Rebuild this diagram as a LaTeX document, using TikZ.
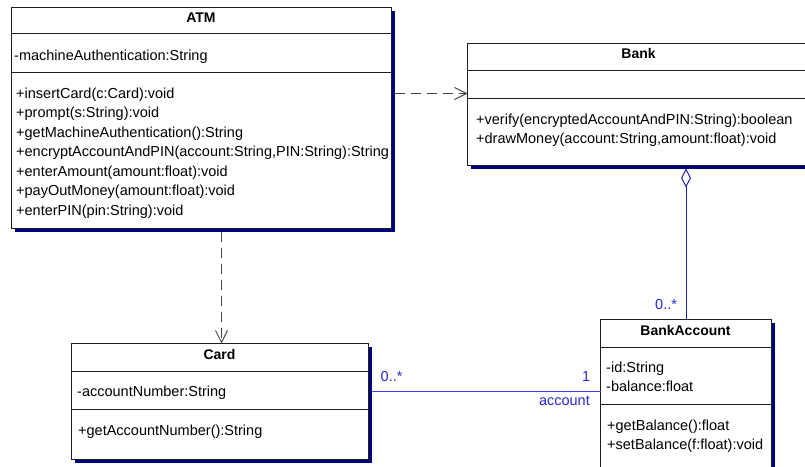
\documentclass[tikz,border=0pt]{standalone}
\usepackage{fontspec}
\setmainfont{Liberation Sans}
\usetikzlibrary{arrows.meta,shadows}
\definecolor{shadowc}{RGB}{0,0,128}
\definecolor{boxline}{RGB}{30,30,30}
\definecolor{depc}{RGB}{70,70,70}
\definecolor{assocc}{RGB}{60,60,255}
\definecolor{labelc}{RGB}{40,40,210}
\definecolor{aggc}{RGB}{35,35,175}
\tikzset{
  umlbox/.style={draw=boxline, fill=white, line width=1pt, inner sep=0pt, outer sep=0pt, anchor=north west,
    general shadow={fill=shadowc, shadow xshift=3pt, shadow yshift=-3pt}},
  sep/.style={draw=boxline, line width=1pt},
  txt/.style={anchor=base west, inner sep=0pt, font=\fontsize{14.5}{17}\selectfont},
  ttl/.style={anchor=base, inner sep=0pt, font=\fontsize{14}{17}\selectfont\bfseries},
  dep/.style={draw=depc, line width=1pt, dash pattern=on 10pt off 6pt, -{Straight Barb[length=12pt,width=12pt]}},
  assocline/.style={draw=assocc, line width=1.2pt},
  agg/.style={draw=aggc, line width=1pt, -{Diamond[open,fill=white,length=19pt,width=10pt]}},
  mult/.style={anchor=base west, inner sep=0pt, text=labelc, font=\fontsize{14.5}{17}\selectfont}
}
\begin{document}
\begin{tikzpicture}[x=1pt,y=-1pt]
\useasboundingbox[fill=white] (0,0) rectangle (805,466);

% ATM
\node[umlbox, minimum width=380pt, minimum height=221pt] (atm) at (11.5,7.5) {};
\draw[sep] (11.5,33.5) -- (391.5,33.5);
\draw[sep] (11.5,72.5) -- (391.5,72.5);
\node[ttl] (atmt) at (201,22) {ATM};
\node[txt] (atma) at (14,60) {-machineAuthentication:String};
\foreach \t [count=\i from 0] in {{+insertCard(c:Card):void},{+prompt(s:String):void},{+getMachineAuthentication():String},{+encryptAccountAndPIN(account:String,PIN:String):String},{+enterAmount(amount:float):void},{+payOutMoney(amount:float):void},{+enterPIN(pin:String):void}}
  \node[txt] (atmm\i) at (16,98+19.5*\i) {\t};

% Bank
\node[umlbox, minimum width=343pt, minimum height=122pt] (bank) at (467.5,43.5) {};
\draw[sep] (467.5,70.5) -- (810.5,70.5);
\draw[sep] (467.5,98.5) -- (810.5,98.5);
\node[ttl] (bankt) at (638.5,58) {Bank};
\node[txt] (bankm0) at (476,124) {+verify(encryptedAccountAndPIN:String):boolean};
\node[txt] (bankm1) at (476,143.5) {+drawMoney(account:String,amount:float):void};

% Card
\node[umlbox, minimum width=297pt, minimum height=116pt] (card) at (71.5,343.5) {};
\draw[sep] (71.5,371.5) -- (368.5,371.5);
\draw[sep] (71.5,409.5) -- (368.5,409.5);
\node[ttl] (cardt) at (219.5,359.3) {Card};
\node[txt] (carda) at (77,396.7) {-accountNumber:String};
\node[txt] (cardm) at (78,435) {+getAccountNumber():String};

% BankAccount
\node[umlbox, minimum width=171pt, minimum height=160pt] (bacc) at (600.5,319.5) {};
\draw[sep] (600.5,347.5) -- (771.5,347.5);
\draw[sep] (600.5,404.5) -- (771.5,404.5);
\node[ttl] (bacct) at (685.5,335) {BankAccount};
\node[txt] (bacca0) at (606,372.7) {-id:String};
\node[txt] (bacca1) at (606,391.7) {-balance:float};
\node[txt] (baccm0) at (607,430) {+getBalance():float};
\node[txt] (baccm1) at (607,449) {+setBalance(f:float):void};

% connectors
\draw[dep] ([xshift=3pt]atm.east |- 0,93.5) -- (bank.west |- 0,93.5);
\draw[dep] ([yshift=-3pt]atm.south -| 221.5,0) -- (card.north -| 221.5,0);
\draw[agg] (bacc.north) -- ([yshift=-3pt]bacc.north |- bank.south);
\draw[assocline] ([xshift=3pt]card.east |- 0,391.5) -- (bacc.west |- 0,391.5);

% multiplicities
\node[mult] (m1) at (380.5,381.7) {0..*};
\node[mult] (m2) at (582,381.7) {1};
\node[mult, anchor=base east] (m3) at (590,405.7) {account};
\node[mult] (m4) at (655,309) {0..*};
\end{tikzpicture}
\end{document}
